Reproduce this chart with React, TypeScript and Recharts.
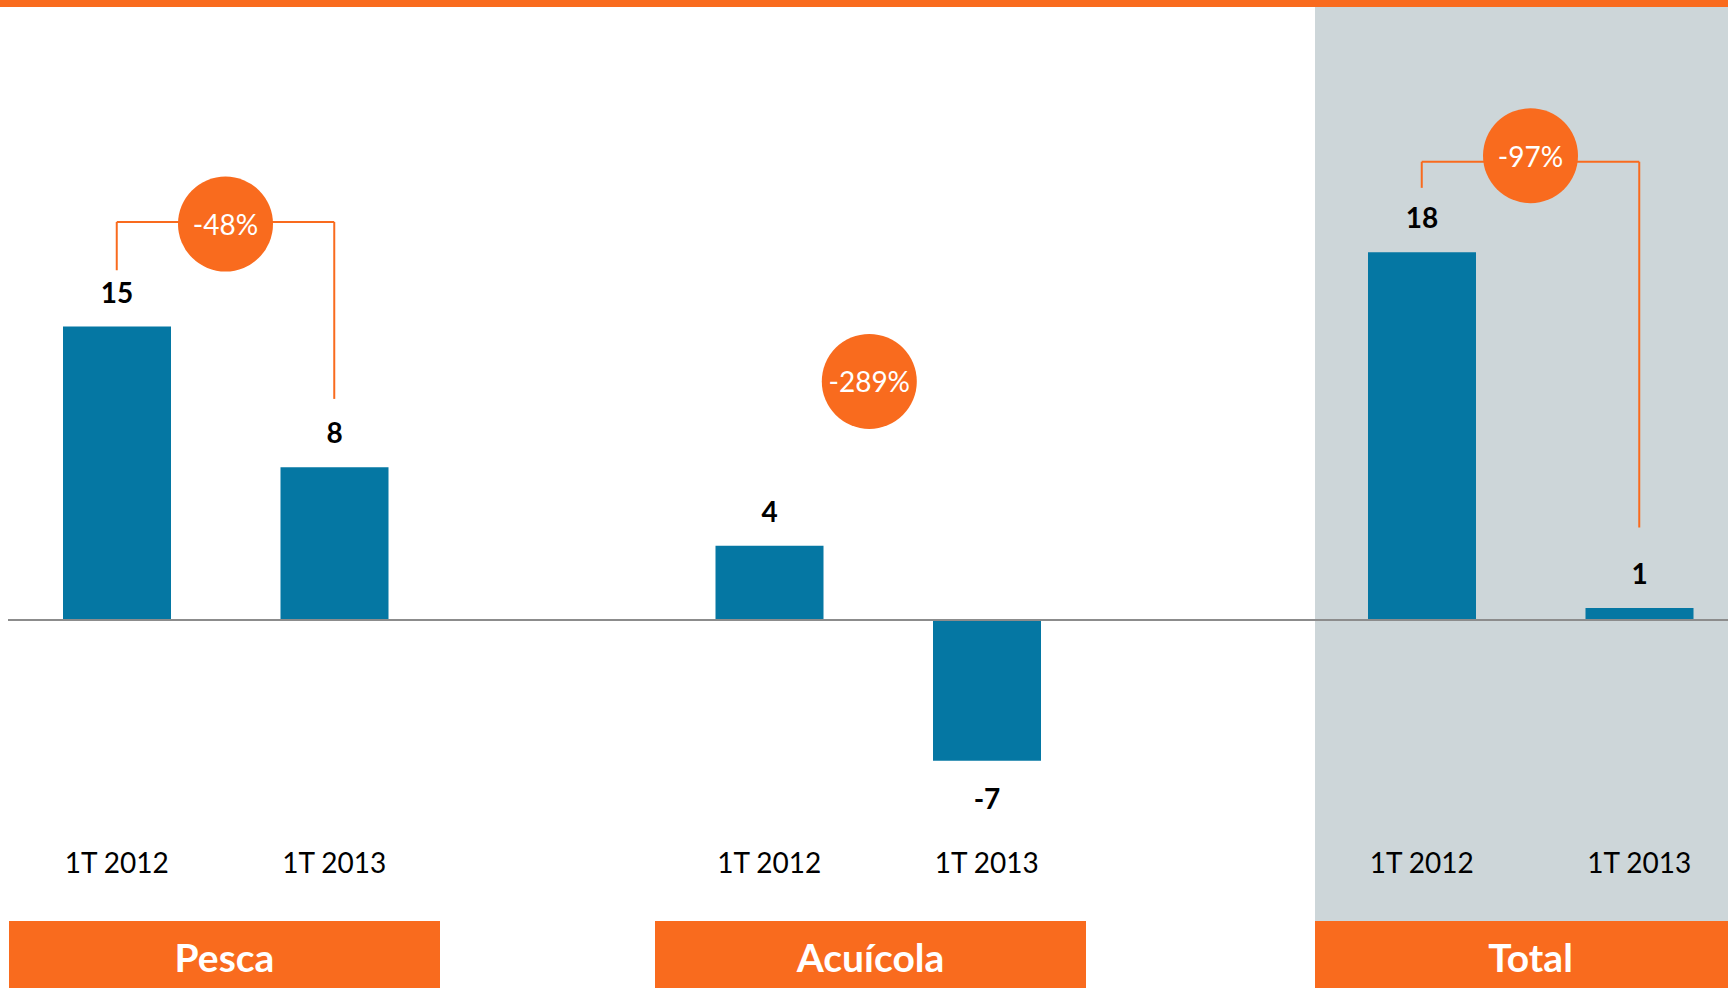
import { BarChart, Bar, XAxis, YAxis, ReferenceLine, ReferenceDot, LabelList } from "recharts";

const groups = ["Pesca", "Acuícola", "Total"];
const periods = ["1T 2012", "1T 2013"];
const pescaValues = [14.6, 7.6];
const acuicolaValues = [3.7, -7.0];
const totalValues = [18.3, 0.6];
const changeLabels = ["-48%", "-289%", "-97%"];

const seriesByGroup = [pescaValues, acuicolaValues, totalValues];

// every group takes three slots on the x axis: two bars and one empty gap
const rows = seriesByGroup.flatMap((vals, g) =>
  vals.map((v, i) => ({ x: g * 3 + i, period: periods[i], value: v }))
);
const tickValues = rows.map((r) => r.x);

const ORANGE = "#F96B1E";
const BLUE = "#0577A3";
const PANEL = "#CDD6D9";
const AXIS = "#8C8C8C";
const FONT = "Lato, 'Open Sans', sans-serif";

// layout
const PLOT_TOP = 117.5;
const PLOT_LEFT = 8;
const CHART_W = 1748;
const CHART_H = 881;
const AXIS_H = 60;
const BOX_LEFTS = [9, 655, 1315];
const BOX_W = 431;

// change bubbles (data units), brackets only on Pesca and Total
const bubbles = [
  { x: 0.5, y: 19.7 },
  { x: 3.46, y: 11.87 },
  { x: 6.5, y: 23.1 },
];
const brackets = [
  { from: 0, to: 1, top: 19.8, leftEnd: 17.4, rightEnd: 11.0 },
  { from: 6, to: 7, top: 22.8, leftEnd: 21.5, rightEnd: 4.6 },
];

function ValueLabel(props: any) {
  const vb = props.viewBox ?? props;
  const x = Number(vb.x ?? props.x);
  const y = Number(vb.y ?? props.y);
  const w = Number(vb.width ?? props.width);
  const h = Number(vb.height ?? props.height);
  const v = Number(props.value);
  const top = Math.min(y, y + h);
  const bottom = Math.max(y, y + h);
  const ty = v >= 0 ? top - 35 : bottom + 37;
  return (
    <text x={x + w / 2} y={ty} textAnchor="middle" dominantBaseline="central" fontFamily={FONT} fontWeight={700} fontSize={28} fill="#000">
      {Math.round(v)}
    </text>
  );
}

function PeriodTick(props: any) {
  const { x, y, payload } = props;
  return (
    <text x={x} y={y + 41} textAnchor="middle" dominantBaseline="central" fontFamily={FONT} fontSize={28} fill="#000">
      {periods[payload.value % 3]}
    </text>
  );
}

function Bubble(props: any) {
  const { cx, cy, r, text } = props;
  return (
    <g>
      <circle cx={cx} cy={cy} r={r} fill={ORANGE} />
      <text x={cx} y={cy} textAnchor="middle" dominantBaseline="central" fontFamily={FONT} fontSize={28} fill="#fff">
        {text}
      </text>
    </g>
  );
}

export default function App() {
  return (
    <div style={{ position: "absolute", left: 0, top: 0, width: 1728, height: 988, overflow: "hidden", background: "#fff", fontFamily: FONT }}>
      <div style={{ position: "absolute", left: 0, top: 0, width: 1728, height: 7, background: ORANGE }} />
      <div style={{ position: "absolute", left: 1315, top: 7, width: 413, height: 914, background: PANEL }} />
      <div style={{ position: "absolute", left: 0, top: 0 }}>
        <BarChart width={CHART_W} height={CHART_H} data={rows} margin={{ top: PLOT_TOP, right: 0, bottom: 0, left: PLOT_LEFT }}>
          <XAxis
            type="number"
            dataKey="x"
            domain={[-0.5, 7.5]}
            ticks={tickValues}
            interval={0}
            axisLine={false}
            tickLine={false}
            tickSize={0}
            tickMargin={0}
            height={AXIS_H}
            tick={<PeriodTick />}
          />
          <YAxis hide domain={[-10, 25]} />
          <ReferenceLine y={0} stroke={AXIS} strokeWidth={2} />
          <Bar dataKey="value" fill={BLUE} barSize={108} isAnimationActive={false}>
            <LabelList dataKey="value" content={<ValueLabel />} />
          </Bar>
          {brackets.map((b, i) => (
            <ReferenceLine key={`l${i}`} segment={[{ x: b.from, y: b.leftEnd }, { x: b.from, y: b.top }]} stroke={ORANGE} strokeWidth={2} />
          ))}
          {brackets.map((b, i) => (
            <ReferenceLine key={`h${i}`} segment={[{ x: b.from, y: b.top }, { x: b.to, y: b.top }]} stroke={ORANGE} strokeWidth={2} />
          ))}
          {brackets.map((b, i) => (
            <ReferenceLine key={`r${i}`} segment={[{ x: b.to, y: b.top }, { x: b.to, y: b.rightEnd }]} stroke={ORANGE} strokeWidth={2} />
          ))}
          {bubbles.map((b, i) => (
            <ReferenceDot key={`b${i}`} x={b.x} y={b.y} r={47.5} shape={(p: any) => <Bubble {...p} text={changeLabels[i]} />} />
          ))}
        </BarChart>
      </div>
      {groups.map((g, i) => (
        <div
          key={g}
          style={{
            position: "absolute",
            left: BOX_LEFTS[i],
            top: 921,
            width: BOX_W,
            height: 67,
            boxSizing: "border-box",
            paddingTop: 4,
            background: ORANGE,
            color: "#fff",
            fontWeight: 700,
            fontSize: 39,
            display: "flex",
            alignItems: "center",
            justifyContent: "center",
          }}
        >
          {g}
        </div>
      ))}
    </div>
  );
}
